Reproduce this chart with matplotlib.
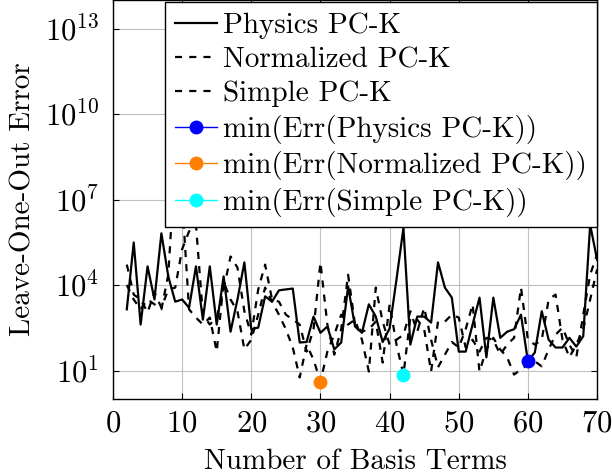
import matplotlib
matplotlib.use("Agg")
import matplotlib.pyplot as plt
import numpy as np
from matplotlib.ticker import NullLocator, LogFormatterSciNotation

plt.rcParams['font.family'] = 'serif'
plt.rcParams['font.serif'] = ['cmr10']
plt.rcParams['mathtext.fontset'] = 'cm'
plt.rcParams['axes.formatter.use_mathtext'] = True
plt.rcParams['font.size'] = 22

# leave-one-out error vs. number of basis terms (2..70)
n_terms = list(range(2, 71))

err_physics = [1.4e3, 3.1e5, 4.1e2, 4.5e4, 3.1e3, 6.5e5, 2.0e4, 2.6e3, 3.1e3, 1.6e3,
               4.5e4, 6.1e2, 4.5e4, 4.1e2, 2.0e4, 2.3e2, 3.1e3, 6.2e4, 2.8e2, 3.2e2,
               4.0e3, 2.6e3, 6.5e3, 7.0e3, 7.5e3, 96, 1.0e2, 7.8e2, 2.1e2, 3.5e2,
               55, 96, 8.9e3, 3.5e2, 2.1e2, 2.1e3, 7.8e2, 1.0e2, 3.0e2, 1.6e4,
               1.0e6, 81, 7.8e2, 7.8e2, 4.8e2, 6.2e4, 8.1e3, 3.6e3, 46, 46,
               4.1e2, 3.6e3, 29, 3.6e3, 1.4e2, 2.3e2, 2.8e2, 9.1e2, 21, 43,
               1.2e3, 1.2e2, 64, 64, 1.4e2, 69, 1.6e2, 1.3e6, 7.8e4]

err_normalized = [1.0e4, 3.1e3, 1.4e3, 3.1e3, 2.1e3, 1.4e3, 2.3e4, 2.5e8, 1.0e7, 1.4e3,
                  7.2e2, 4.1e2, 7.2e2, 46, 1.3e4, 3.1e3, 1.2e3, 55, 1.2e2, 9.1e2,
                  8.1e3, 2.6e3, 9.1e2, 2.8e2, 64, 5.7, 81, 24, 4.1, 46,
                  1.8e2, 9.1e2, 4.1e2, 6.1e2, 1.2e2, 9.2, 8.1e3, 5.2e2, 81, 1.2e2,
                  1.8e2, 1.2e3, 2.3e2, 1.6e3, 1.2e2, 13, 36, 1.0e2, 64, 2.8e2,
                  2.1e3, 9.2, 55, 1.4e2, 55, 29, 7.2, 11, 16, 21,
                  14, 55, 1.8e2, 3.2e2, 81, 29, 9.1e2, 2.3e4, 1.2e5]

err_simple = [5.2e4, 4.6e3, 3.1e3, 1.1e3, 5.5e3, 1.6e3, 7.0e3, 8.1e3, 1.8e5, 7.6e5,
              1.3e6, 9.1e2, 4.1e2, 7.2e2, 7.0e3, 1.0e5, 4.1e4, 1.2e3, 1.8e2, 7.0e3,
              5.2e4, 3.1e3, 2.6e3, 9.1e2, 6.1e2, 4.1e2, 46, 2.8e2, 6.2e4, 4.1e2,
              36, 2.8e2, 2.3e4, 4.1e2, 2.3e2, 2.8e2, 5.2e2, 19, 2.1e3, 81,
              7.2, 7.2e2, 6.1e2, 2.8e2, 9.2, 5.2e2, 5.2e2, 9.1e2, 7.2e2, 64,
              1.2e2, 46, 1.4e2, 1.2e2, 36, 81, 1.4e2, 8.1e3, 1.2e2, 81,
              1.2e2, 3.1e3, 4.6e3, 1.2e2, 29, 81, 2.8e2, 3.1e3, 3.5e4]

series = [
    ('Physics PC-K', err_physics, '-', 'blue'),
    ('Normalized PC-K', err_normalized, (0, (3.2, 3.2)), '#ff8000'),
    ('Simple PC-K', err_simple, (0, (3.2, 3.2)), 'cyan'),
]

fig = plt.figure(figsize=(6.12, 4.75), dpi=100)
ax = fig.add_axes([0.1846, 0.16, 0.791, 0.84])

for label, err, ls, _ in series:
    ax.plot(n_terms, err, color='black', linestyle=ls, linewidth=1.6, label=label)

# mark the minimum of each curve
for label, err, _, col in series:
    i = int(np.argmin(err))
    ax.plot([n_terms[i]], [err[i]], marker='o', markersize=9, color=col,
            linewidth=1, label='min(Err(' + label + '))')

ax.set_yscale('log')
ax.set_xlim(0, 70)
ax.set_ylim(1, 1e14)
ax.set_xticks(range(0, 71, 10))
ax.set_yticks([1e1, 1e4, 1e7, 1e10, 1e13])
ax.yaxis.set_major_formatter(LogFormatterSciNotation())
ax.yaxis.set_minor_locator(NullLocator())
ax.xaxis.set_minor_locator(NullLocator())
ax.tick_params(direction='in', length=4, width=0.8, top=True, right=True)
ax.tick_params(axis='x', pad=8)
ax.tick_params(axis='y', pad=10)
ax.grid(True, color='#c0c0c0', linewidth=0.8)
ax.set_axisbelow(True)
for s in ax.spines.values():
    s.set_linewidth(1.0)

ax.set_xlabel('Number of Basis Terms', fontsize=21, labelpad=8)
ax.set_ylabel('Leave-One-Out Error', fontsize=21, labelpad=6)

leg = ax.legend(loc='upper right', bbox_to_anchor=(1.0, 0.994), fancybox=False,
                framealpha=1, edgecolor='black', fontsize=21, handlelength=1.45,
                handletextpad=0.2, borderpad=0.35, labelspacing=0.26,
                borderaxespad=0)
leg.get_frame().set_linewidth(1.0)

fig.savefig('out.png', dpi=100)
